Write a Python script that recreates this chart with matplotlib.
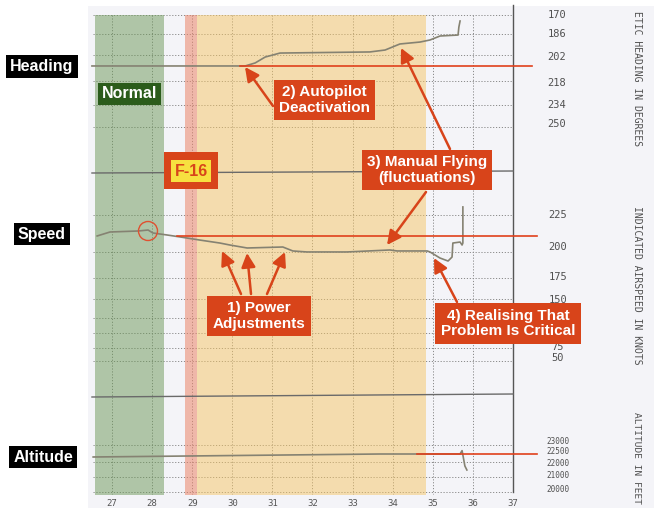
import numpy as np
import matplotlib
matplotlib.use("Agg")
import matplotlib.pyplot as plt
from matplotlib.patches import Rectangle, Circle

# ---- recorder data (time in minutes, values in instrument units) ----
minute_ticks = list(range(27, 38))

heading_min = [26.50, 30.32, 30.57, 30.82, 31.19, 33.43, 33.81, 34.18, 34.68, 34.93, 35.18, 35.63, 35.65, 35.68]
heading_deg = [207.8, 207.8, 205.6, 201.3, 198.4, 197.6, 196.2, 191.8, 190.4, 188.9, 186.0, 185.3, 179.5, 175.1]

speed_min = [26.63, 26.95, 27.65, 27.90, 28.02, 28.37, 28.70, 29.19, 29.69, 29.94, 30.37, 31.26, 31.51,
             31.86, 32.86, 33.93, 34.11, 34.86, 34.93, 35.18, 35.38, 35.48, 35.50, 35.68, 35.73, 35.75, 35.75]
speed_kn = [208.9, 212.1, 212.9, 213.7, 211.3, 209.7, 208.1, 205.6, 203.2, 201.6, 199.2, 200.0, 196.8,
            196.0, 196.0, 197.6, 196.8, 196.8, 196.0, 191.1, 188.7, 191.9, 203.2, 204.0, 201.6, 203.2, 232.3]

alt_min = [26.53, 33.68, 35.68, 35.73, 35.75, 35.80, 35.85]
alt_ft = [22273, 22409, 22409, 22568, 22364, 21750, 21417]

# other recorded parameters (flat traces between the panels)
other_min = [26.50, 37.0]
other_a_row = [173, 171]
other_b_row = [397, 394]

heading_ticks = [170, 186, 202, 218, 234, 250]
speed_ticks = ["225", "200", "175", "150", "75", "50"]
alt_ticks = ["23000", "22500", "22000", "21000", "20000"]

# reference levels drawn in red
heading_ref = 207.8
speed_ref = 208.9
alt_ref = 22409

# ---- scales of the paper chart (value -> chart row, 0 = top) ----
def heading_row(d):
    return 14 + (np.asarray(d) - 170) * 1.375

def speed_row(k):
    return 247 - (np.asarray(k) - 200) * 1.24

alt_vals = [20000, 21000, 22000, 22500, 23000]
alt_rows = [490, 475, 463, 452, 442]

def alt_row(a):
    return np.interp(a, alt_vals, alt_rows)

def to_min(px):
    return 27 + (px - 112) / 40.1

W, H = 654, 508
fig = plt.figure(figsize=(W / 100, H / 100), dpi=100)
fig.patch.set_facecolor("white")

ax = fig.add_axes([0, 0, 1, 1])
ax.set_xlim(to_min(0), to_min(W))
ax.set_ylim(H, 0)
ax.axis("off")

lay = fig.add_axes([0, 0, 1, 1], zorder=5)
lay.set_xlim(0, W)
lay.set_ylim(H, 0)
lay.axis("off")
lay.patch.set_alpha(0)

# paper
ax.add_patch(Rectangle((to_min(88), 6), to_min(W) - to_min(88), H, color="#f4f4f8", zorder=0, lw=0))

# grid
grid_c = "#8a8a8a"
for m in minute_ticks[:-1]:
    ax.plot([m, m], [15, 494], color=grid_c, lw=0.7, ls=(0, (1.2, 1.8)), zorder=1)
ax.plot([37, 37], [5, 492], color="#555555", lw=1.0, zorder=1)
dotted_rows = [15, 34, 55, 81, 105, 127, 215, 252, 278, 299, 318, 333, 348, 361, 445, 462, 477, 492]
for r in dotted_rows:
    ax.plot([to_min(93), 37], [r, r], color=grid_c, lw=0.7, ls=(0, (1.2, 1.8)), zorder=1)

# phase bands
ax.add_patch(Rectangle((to_min(95), 15), to_min(164) - to_min(95), 480, color="#6b9757", alpha=0.5, lw=0, zorder=2))
ax.add_patch(Rectangle((to_min(185), 15), to_min(197) - to_min(185), 480, color="#eb8569", alpha=0.55, lw=0, zorder=2))
ax.add_patch(Rectangle((to_min(197), 15), to_min(426) - to_min(197), 480, color="#f5c565", alpha=0.5, lw=0, zorder=2))

# traces
trace_c = "#858272"
ax.plot(heading_min, heading_row(heading_deg), color=trace_c, lw=1.2, zorder=3)
ax.plot(speed_min, speed_row(speed_kn), color=trace_c, lw=1.2, zorder=3)
ax.plot(alt_min, alt_row(alt_ft), color=trace_c, lw=1.2, zorder=3)
ax.plot(other_min, other_a_row, color="#6a6a6a", lw=1.0, zorder=3)
ax.plot(other_min, other_b_row, color="#6a6a6a", lw=1.0, zorder=3)

# red reference lines
red = "#e0401c"
ax.plot([to_min(240), to_min(532)], [heading_row(heading_ref)] * 2, color=red, lw=1.2, zorder=4)
ax.plot([to_min(177), to_min(537)], [speed_row(speed_ref)] * 2, color=red, lw=1.2, zorder=4)
ax.plot([to_min(417), to_min(537)], [alt_row(alt_ref)] * 2, color=red, lw=1.2, zorder=4)

# scale labels on paper
mono = "DejaVu Sans Mono"
for m in minute_ticks:
    ax.text(m, 503, str(m), ha="center", va="center", fontsize=6.5, family=mono, color="#555555", zorder=3)
for t, r in zip(heading_ticks, [15, 34, 57, 83, 105, 124]):
    lay.text(557, r, str(t), ha="center", va="center", fontsize=7.5, family=mono, color="#505050")
for t, r in zip(speed_ticks, [215, 247, 277, 300, 347, 358]):
    lay.text(558, r, t, ha="center", va="center", fontsize=7.5, family=mono, color="#505050")
for t, r in zip(alt_ticks, [442, 452, 463, 475, 490]):
    lay.text(558, r, t, ha="center", va="center", fontsize=5.5, family=mono, color="#505050")
lay.text(637, 79, "ETIC HEADING IN DEGREES", rotation=270, ha="center", va="center",
         fontsize=7, family=mono, color="#505050")
lay.text(637, 285, "INDICATED AIRSPEED IN KNOTS", rotation=270, ha="center", va="center",
         fontsize=7, family=mono, color="#505050")
lay.text(637, 458, "ALTITUDE IN FEET", rotation=270, ha="center", va="center",
         fontsize=6.8, family=mono, color="#505050")

# circle at the start of the descent
lay.add_patch(Circle((148, 231), 9.5, fill=False, ec="#e05030", lw=1.0))

# labels and callouts
sans = "Liberation Sans"
box_red = "#d8441a"

def label(x, y, s, fc, size=11.5, color="white", pad=0.25):
    lay.text(x, y, s, ha="center", va="center", fontsize=size, fontweight="bold", family=sans,
             color=color, linespacing=1.15,
             bbox=dict(boxstyle=f"square,pad={pad}", fc=fc, ec="none"))

label(42, 66.5, "Heading", "black")
label(42, 234, "Speed", "black")
label(43, 457, "Altitude", "black")
label(129.5, 94, "Normal", "#2b5c1b")

# F-16 tag
lay.add_patch(Rectangle((164, 152), 54, 37, color=box_red, lw=0))
lay.text(191, 171, "F-16", ha="center", va="center", fontsize=11.5, fontweight="bold", family=sans,
         color=box_red, bbox=dict(boxstyle="square,pad=0.2", fc="#f7e040", ec="none"))

label(324.5, 100, "2) Autopilot\nDeactivation", box_red, size=11, pad=0.35)
label(427, 170, "3) Manual Flying\n(fluctuations)", box_red, size=11, pad=0.35)
label(259, 316, "1) Power\nAdjustments", box_red, size=11, pad=0.35)
label(508, 323.5, "4) Realising That\nProblem Is Critical", box_red, size=11, pad=0.35)

def arrow(tail, tip):
    lay.annotate("", xy=tip, xytext=tail, zorder=1,
                 arrowprops=dict(arrowstyle="-|>,head_length=0.7,head_width=0.35", color=box_red,
                                 lw=1.8, shrinkA=0, shrinkB=0, mutation_scale=12))

arrow((273, 106), (245, 67))
arrow((450, 149), (401, 48))
arrow((426, 192), (387, 245))
arrow((241, 294), (222, 251))
arrow((251, 294), (247, 253))
arrow((267, 294), (285, 252))
arrow((457, 302), (434, 258))

fig.savefig("out.png", dpi=100, facecolor="white")
